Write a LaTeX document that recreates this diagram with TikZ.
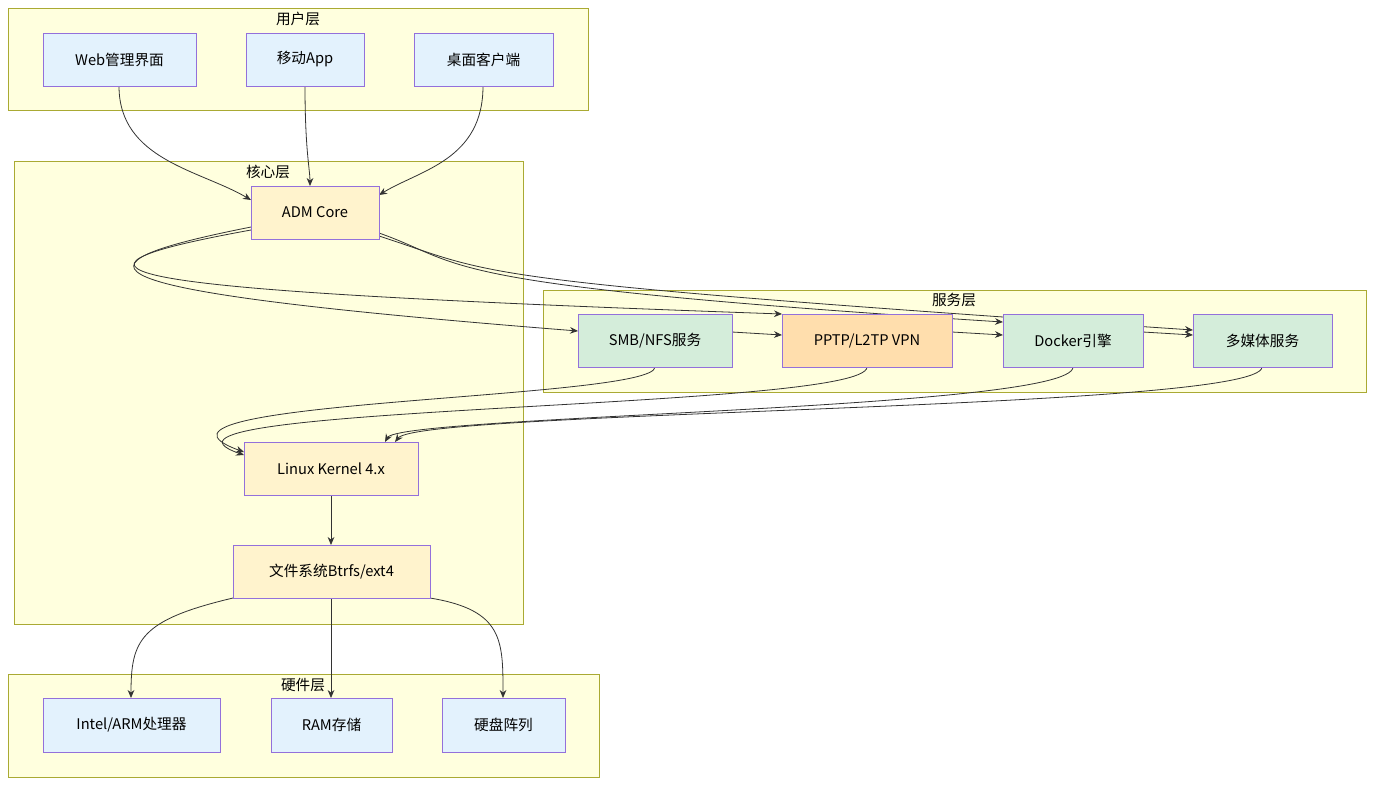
\documentclass[tikz,border=0pt]{standalone}
\usepackage{fontspec}
\setmainfont{Noto Sans CJK SC}
\usetikzlibrary{positioning}
\usetikzlibrary{arrows.meta}

\definecolor{clfill}{HTML}{FFFFDE}
\definecolor{clline}{HTML}{AAAA33}
\definecolor{ndline}{HTML}{9370DB}
\definecolor{bluef}{HTML}{E3F2FD}
\definecolor{coref}{HTML}{FFF3CD}
\definecolor{greenf}{HTML}{D4EDDA}
\definecolor{orangef}{HTML}{FFDEAD}

\tikzset{
  layer/.style={draw=clline, fill=clfill, line width=0.5pt},
  box/.style={draw=ndline, line width=0.6pt, inner sep=0pt, font=\fontsize{11}{13}\selectfont},
  lbl/.style={font=\fontsize{11}{13}\selectfont},
  link/.style={draw=black!80, line width=0.6pt, -{Stealth[length=6pt,width=5pt]}}
}

\begin{document}
\begin{tikzpicture}[x=0.75pt, y=-0.75pt]

\useasboundingbox[fill=white] (0,0) rectangle (1383,790);

% layers
\draw[layer] (8,8) rectangle (588,110);
\node[lbl] (user) at (298,19) {用户层};
\draw[layer] (14,161) rectangle (523,624);
\node[lbl] (core) at (268,172) {核心层};
\draw[layer] (543,290) rectangle (1366,392);
\node[lbl] (serv) at (954,300) {服务层};
\draw[layer] (8,674) rectangle (599,777);
\node[lbl] (hw) at (303,685) {硬件层};

% edges (drawn first, nodes hide them)
\draw[link] (119,86) .. controls (119,160) and (200,170) .. (251,200);
\draw[link] (305,86) .. controls (305,150) and (310,170) .. (310,186);
\draw[link] (483,86) .. controls (483,160) and (420,170) .. (379,195);
\draw[link] (251,227) .. controls (60,265) and (60,290) .. (578,331);
\draw[link] (251,230) .. controls (20,272) and (100,290) .. (782,314);
\draw[link] (379,233) .. controls (470,265) and (420,285) .. (1003,322);
\draw[link] (379,236) .. controls (500,275) and (450,280) .. (1193,330);
\draw[link] (732,332) -- (782,335);
\draw[link] (952,332) -- (1003,335);
\draw[link] (1143,332) -- (1193,335);
\draw[link] (655,367) .. controls (655,400) and (100,400) .. (244,452);
\draw[link] (867,367) .. controls (867,410) and (100,405) .. (244,455);
\draw[link] (1073,367) .. controls (1073,410) and (400,415) .. (385,442);
\draw[link] (1262,367) .. controls (1262,410) and (420,410) .. (395,442);
\draw[link] (331,495) -- (331,545);
\draw[link] (233,598) .. controls (140,620) and (131,640) .. (131,698);
\draw[link] (331,598) -- (331,698);
\draw[link] (430,598) .. controls (503,610) and (503,640) .. (503,698);

% nodes
\node[box, fill=bluef, minimum width=153*0.75pt, minimum height=53*0.75pt] (web) at (119.5,59.5) {Web管理界面};
\node[box, fill=bluef, minimum width=118*0.75pt, minimum height=53*0.75pt] (app) at (305,59.5) {移动App};
\node[box, fill=bluef, minimum width=139*0.75pt, minimum height=53*0.75pt] (desk) at (483.5,59.5) {桌面客户端};
\node[box, fill=coref, minimum width=128*0.75pt, minimum height=53*0.75pt] (adm) at (315,212.5) {ADM Core};
\node[box, fill=greenf, minimum width=154*0.75pt, minimum height=53*0.75pt] (smb) at (655,340.5) {SMB/NFS服务};
\node[box, fill=orangef, minimum width=170*0.75pt, minimum height=53*0.75pt] (vpn) at (867,340.5) {PPTP/L2TP VPN};
\node[box, fill=greenf, minimum width=140*0.75pt, minimum height=53*0.75pt] (docker) at (1073,340.5) {Docker引擎};
\node[box, fill=greenf, minimum width=139*0.75pt, minimum height=53*0.75pt] (media) at (1262.5,340.5) {多媒体服务};
\node[box, fill=coref, minimum width=174*0.75pt, minimum height=53*0.75pt] (kernel) at (331,468.5) {Linux Kernel 4.x};
\node[box, fill=coref, minimum width=197*0.75pt, minimum height=53*0.75pt] (fs) at (331.5,571.5) {文件系统Btrfs/ext4};
\node[box, fill=bluef, minimum width=177*0.75pt, minimum height=54*0.75pt] (cpu) at (131.5,725) {Intel/ARM处理器};
\node[box, fill=bluef, minimum width=121*0.75pt, minimum height=54*0.75pt] (ram) at (331.5,725) {RAM存储};
\node[box, fill=bluef, minimum width=123*0.75pt, minimum height=54*0.75pt] (disk) at (503.5,725) {硬盘阵列};

\end{tikzpicture}
\end{document}
